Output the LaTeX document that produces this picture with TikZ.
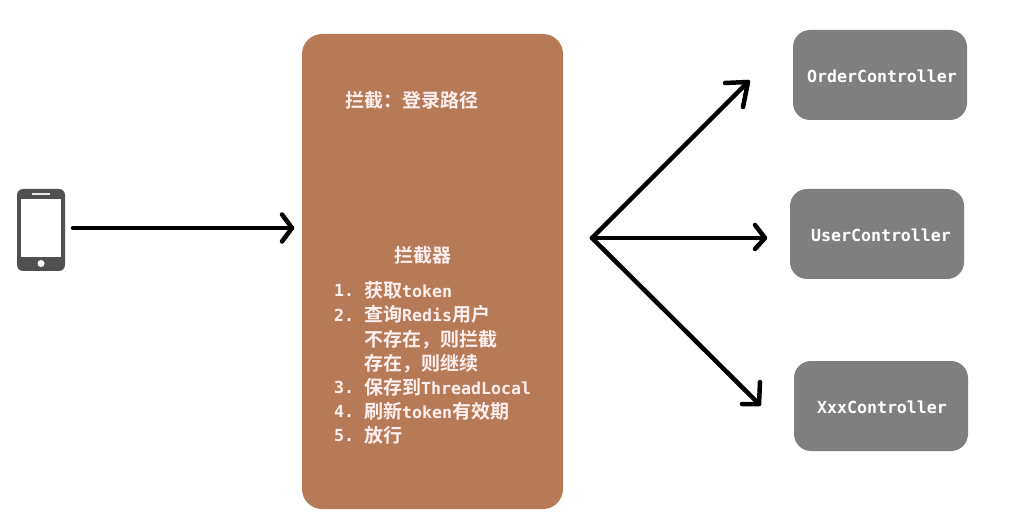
\documentclass[tikz,border=0pt]{standalone}
\usepackage{fontspec}
\setmainfont{DejaVu Sans Mono}
\newfontfamily\cjk{Noto Sans CJK SC}[BoldFont={Noto Sans CJK SC Bold}]
\definecolor{boxbrown}{HTML}{B67A57}
\definecolor{boxgray}{HTML}{7F7F7F}
\definecolor{phonegray}{HTML}{505050}
\definecolor{textpink}{HTML}{FFF0F0}
\newcommand{\zh}[1]{{\fontsize{19}{24}\selectfont\cjk\bfseries #1}}
\tikzset{
  x=1pt,y=-1pt,
  conn/.style={line width=4.5pt,line cap=round,line join=round,draw=black},
  ctrl/.style={fill=boxgray,draw=none,rounded corners=17pt,minimum width=174pt,minimum height=90pt,inner sep=0pt},
  ctrltext/.style={text=white,font=\fontsize{16.6}{16.6}\selectfont\bfseries,inner sep=0pt},
  intext/.style={text=textpink,font=\fontsize{16.6}{16.6}\selectfont\bfseries,inner sep=0pt,anchor=base west},
}
\begin{document}
\begin{tikzpicture}
\useasboundingbox (0,0) rectangle (1027,518);
\fill[white] (0,0) rectangle (1027,518);
% phone
\node[fill=phonegray,draw=none,rounded corners=6pt,minimum width=48pt,minimum height=82pt,inner sep=0pt] (phone) at (41,230) {};
\fill[white] (21,199) rectangle (61,257);
\fill[white!85!phonegray] (32,193) rectangle (50,195);
\fill[white] (41,263.5) circle (3.5);
% interceptor
\node[fill=boxbrown,draw=none,rounded corners=20pt,minimum width=261pt,minimum height=475pt,inner sep=0pt] (inter) at (432.5,271.5) {};
\node[intext] (t0) at (345,108) {\zh{拦截：登录路径}};
\node[intext] (t1) at (394,263) {\zh{拦截器}};
\foreach \n/\y/\lab in {a/297/1.,b/321/2.,c/393/3.,d/417/4.,e/441/5.}
  \node[intext] (n\n) at (334,\y) {\lab};
\node[intext] (la) at (364,298) {\zh{获取}token};
\node[intext] (lb) at (364,322) {\zh{查询}Redis\zh{用户}};
\node[intext] (lb2) at (364,346) {\zh{不存在，则拦截}};
\node[intext] (lb3) at (364,370) {\zh{存在，则继续}};
\node[intext] (lc) at (364,394) {\zh{保存到}ThreadLocal};
\node[intext] (ld) at (364,418) {\zh{刷新}token\zh{有效期}};
\node[intext] (le) at (364,442) {\zh{放行}};
% controllers
\node[ctrl] (oc) at (880,75) {};
\node[ctrltext] at (882,76) {OrderController};
\node[ctrl] (uc) at (877,234) {};
\node[ctrltext] at (881,235) {UserController};
\node[ctrl] (xc) at (881,406) {};
\node[ctrltext] at (882,407) {XxxController};
% connectors
\coordinate (p0) at (73,228);
\coordinate (p1) at (292,228);
\coordinate (hub) at (592,238);
\coordinate (e1) at (748,82);
\coordinate (e2) at (765,238);
\coordinate (e3) at (759,404);
\draw[conn] (p0) -- (p1);
\draw[conn] (282,214.5) -- (p1) -- (282,241.5);
\draw[conn] (hub) -- (e1);
\draw[conn] (725,83) -- (e1) -- (743,107);
\draw[conn] (hub) -- (e2);
\draw[conn] (755,225) -- (e2) -- (755,249);
\draw[conn] (hub) -- (e3);
\draw[conn] (742,404) -- (e3) -- (760,382);
\end{tikzpicture}
\end{document}
